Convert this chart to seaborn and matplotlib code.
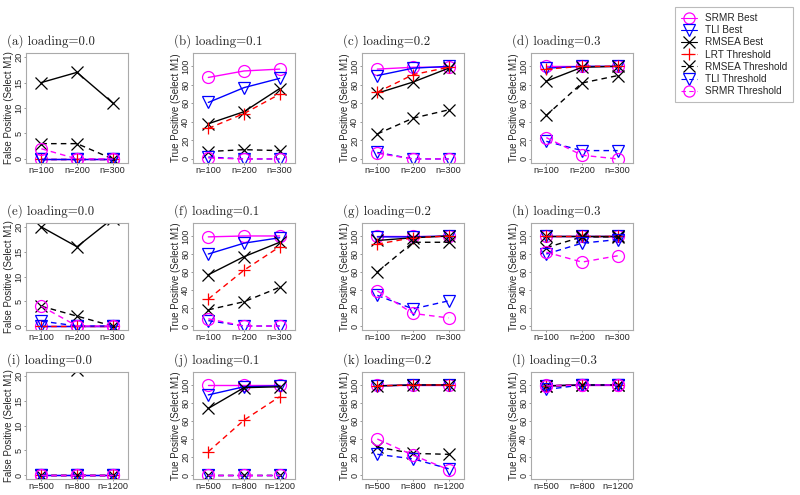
import matplotlib
matplotlib.use('Agg')
import matplotlib.pyplot as plt
from matplotlib.lines import Line2D
import numpy as np
import seaborn as sns

sns.set_style('white')
plt.rcParams['font.family'] = ['Liberation Sans', 'DejaVu Sans']

# series order: SRMR Best, TLI Best, RMSEA Best, LRT Threshold,
#               RMSEA Threshold, TLI Threshold, SRMR Threshold
series = ['SRMR Best', 'TLI Best', 'RMSEA Best', 'LRT Threshold',
          'RMSEA Threshold', 'TLI Threshold', 'SRMR Threshold']
colors = ['#FF00FF', '#0000FF', 'black', '#FF0000', 'black', '#0000FF', '#FF00FF']
markers = ['o', 'v', 'x', '+', 'x', 'v', 'o']
solid = [True, True, True, False, False, False, False]

n_small = ['n=100', 'n=200', 'n=300']
n_large = ['n=500', 'n=800', 'n=1200']

# row 1
panel_a = [[0, 0, 0], [0, 0, 0], [15, 17, 11], [0, 0, 0], [3, 3, 0], [0, 0, 0], [2, 0, 0]]
panel_b = [[88, 95, 97], [61, 77, 87], [38, 51, 76], [33, 49, 70], [8, 10, 9], [2, 0, 0], [1, 0, 0]]
panel_c = [[97, 99, 99], [90, 98, 100], [71, 83, 98], [72, 91, 99], [27, 44, 53], [7, 0, 0], [6, 0, 0]]
panel_d = [[100, 100, 100], [98, 100, 100], [84, 99, 100], [97, 100, 100], [47, 82, 90], [19, 9, 9], [23, 4, 0]]
# row 2
panel_e = [[0, 0, 0], [0, 0, 0], [20, 16, 21.7], [0, 0, 0], [4, 2, 0], [1, 0, 0], [4, 0, 0]]
panel_f = [[99, 100, 100], [80, 92, 98], [57, 77, 93], [30, 62, 88], [18, 27, 43], [6, 0, 0], [8, 0, 0]]
panel_g = [[100, 100, 100], [99, 99, 100], [95, 98, 100], [91, 98, 100], [60, 93, 93], [34, 19, 28], [39, 14, 9]]
panel_h = [[100, 100, 100], [100, 100, 100], [100, 100, 100], [100, 100, 100], [87, 99, 99], [80, 92, 96], [82, 71, 78]]
# row 3
panel_i = [[0, 0, 0], [0, 0, 0], [25, 21.2, 24], [0, 0, 0], [0, 0, 0], [0, 0, 0], [0, 0, 0]]
panel_j = [[100, 100, 100], [89, 98, 99], [74, 97, 98], [26, 61, 87], [0, 0, 0], [0, 0, 0], [0, 0, 0]]
panel_k = [[100, 100, 100], [99, 100, 100], [99, 100, 100], [99, 100, 100], [31, 24, 23], [23, 18, 7], [40, 22, 6]]
panel_l = [[100, 100, 100], [99, 100, 100], [99, 100, 100], [99, 100, 100], [99, 100, 100], [95, 100, 100], [99, 100, 100]]

titles = ['(a) loading=0.0', '(b) loading=0.1', '(c) loading=0.2', '(d) loading=0.3',
          '(e) loading=0.0', '(f) loading=0.1', '(g) loading=0.2', '(h) loading=0.3',
          '(i) loading=0.0', '(j) loading=0.1', '(k) loading=0.2', '(l) loading=0.3']
panels = [panel_a, panel_b, panel_c, panel_d, panel_e, panel_f,
          panel_g, panel_h, panel_i, panel_j, panel_k, panel_l]

W, H = 800, 495
fig = plt.figure(figsize=(8, 4.95), dpi=100)

col_left = [26, 193, 362, 531]
rows_px = [(53, 163), (223, 330), (372, 479)]
box_w = 102
xpos = np.array([1, 2, 3])
dash = (0, (4, 3))

for idx, (vals, title) in enumerate(zip(panels, titles)):
    r, c = divmod(idx, 4)
    top, bot = rows_px[r]
    left = col_left[c]
    ax = fig.add_axes([left / W, 1 - bot / H, box_w / W, (bot - top) / H])
    for k in range(7):
        sns.lineplot(x=xpos, y=vals[k], ax=ax, color=colors[k], marker=markers[k],
                     linestyle='-' if solid[k] else dash, linewidth=1.0,
                     markersize=8.6, markerfacecolor='none',
                     markeredgecolor=colors[k], markeredgewidth=0.9)
    fp = c == 0
    if fp:
        ax.set_ylim(-0.8, 20.8)
        ax.set_yticks([0, 5, 10, 15, 20])
        ax.set_ylabel('False Positive (Select M1)', fontsize=7.0, labelpad=0.5)
    else:
        ax.set_ylim(-4.4, 114.4)
        ax.set_yticks([0, 20, 40, 60, 80, 100])
        ax.set_ylabel('True Positive (Select M1)', fontsize=7.0, labelpad=0.5)
    ax.set_xlim(0.57, 3.43)
    ax.set_xticks(xpos)
    ax.set_xticklabels(n_large if r == 2 else n_small)
    ax.set_xlabel('')
    ax.tick_params(axis='both', labelsize=6.6, length=1.5, width=0.6,
                   color='#888888', pad=0.5, direction='out')
    ax.tick_params(axis='both', bottom=True, left=True)
    plt.setp(ax.get_yticklabels(), rotation=90, va='center')
    for s in ax.spines.values():
        s.set_color('#aaaaaa')
        s.set_linewidth(0.8)
    fig.text((left - 19) / W, 1 - (top - 12) / H, title, fontfamily='cmr10',
             fontsize=9.3, va='center', ha='left')

handles = []
for k in range(7):
    handles.append(Line2D([], [], color=colors[k], marker=markers[k],
                          linestyle='-' if solid[k] else dash, linewidth=0.8,
                          markersize=8.0, markerfacecolor='none',
                          markeredgecolor=colors[k], markeredgewidth=0.9))
leg = fig.legend(handles, series, loc='upper right', bbox_to_anchor=(793 / W, 1 - 7 / H),
                 fontsize=7.2, frameon=True, fancybox=False, handlelength=1.6,
                 handletextpad=0.8, labelspacing=0.22, borderpad=0.6,
                 borderaxespad=0)
leg.get_frame().set_edgecolor('#aaaaaa')
leg.get_frame().set_linewidth(0.8)

fig.savefig('out.png', dpi=100)
